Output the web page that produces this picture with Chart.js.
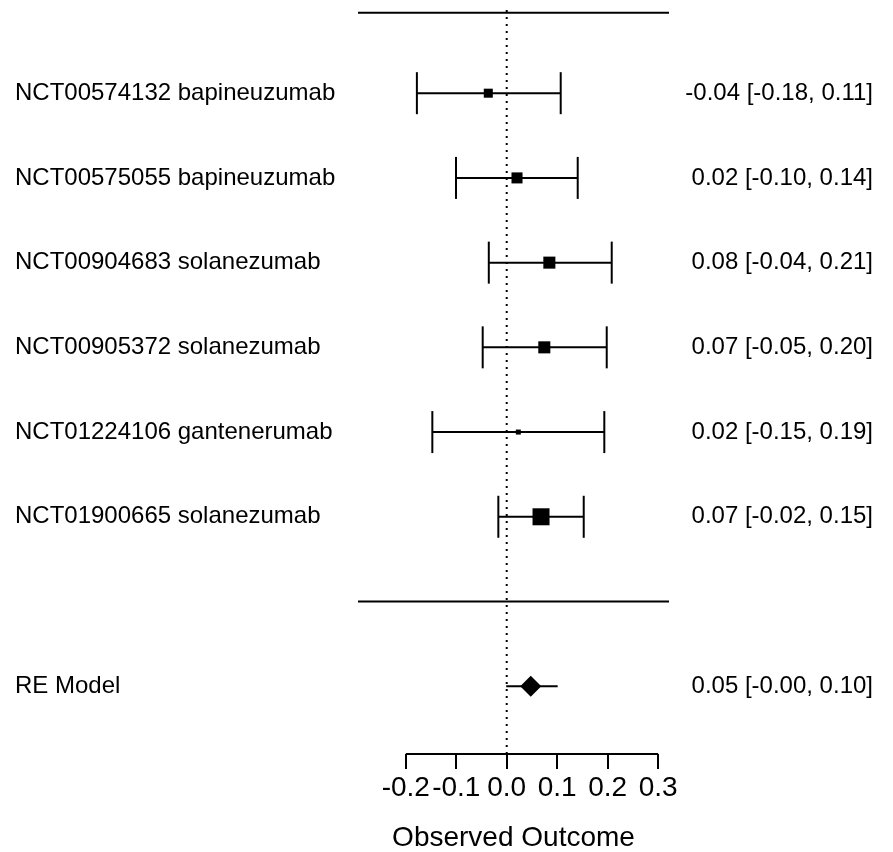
<!DOCTYPE html>
<html>
<head>
	<meta charset="UTF-8">
	<title>forest plot</title>
	<script src="https://cdn.jsdelivr.net/npm/chart.js"></script>
	<style>
	body{margin:0; background:#fff;}
	#box{width:893px; height:852px;}
	</style>
</head>
<body>
	<div id="box">
		<canvas id="myChart"></canvas>
	</div>
	<script>
	// study data
	var studies = ['NCT00574132 bapineuzumab', 'NCT00575055 bapineuzumab', 'NCT00904683 solanezumab',
		'NCT00905372 solanezumab', 'NCT01224106 gantenerumab', 'NCT01900665 solanezumab'];
	var est = [-0.0365, 0.0204, 0.0845, 0.0745, 0.023, 0.068];
	var lo = [-0.178, -0.1005, -0.0355, -0.0476, -0.1474, -0.0166];
	var hi = [0.107, 0.1407, 0.2081, 0.1982, 0.1934, 0.1526];
	var weights = [14.3, 16.7, 17.9, 17.9, 9.5, 23.8];
	var ciText = ['-0.04 [-0.18, 0.11]', '0.02 [-0.10, 0.14]', '0.08 [-0.04, 0.21]',
		'0.07 [-0.05, 0.20]', '0.02 [-0.15, 0.19]', '0.07 [-0.02, 0.15]'];
	var rows = [6, 5, 4, 3, 2, 1];

	// RE model
	var reLabel = 'RE Model';
	var reEst = 0.0476, reLo = -0.001, reHi = 0.101;
	var reText = '0.05 [-0.00, 0.10]';
	var reRow = -1;

	var xTicks = [-0.2, -0.1, 0.0, 0.1, 0.2, 0.3];
	var refLine = 0;

	// plot limits
	var xMin = -0.2947, xMax = 0.3216;
	var yMin = -1.8, yMax = 7.1;
	var topLine = 6.95, sepLine = 0, refTop = 7.0;

	var tickRows = rows.concat([reRow]);
	var leftLabels = studies.concat([reLabel]);
	var rightLabels = ciText.concat([reText]);

	var wMin = Math.min.apply(null, weights), wMax = Math.max.apply(null, weights);
	function boxRadius(w){
		var side = 5 + (w - wMin) / (wMax - wMin) * 12;
		return side / (2 * Math.SQRT1_2);
	}

	var FONT = "'Liberation Sans', Arial, sans-serif";

	var datasets = [];
	// boxes
	datasets.push({
		data: est.map(function(v, i){ return {x: v, y: rows[i]}; }),
		pointStyle: 'rect',
		pointRadius: weights.map(boxRadius),
		backgroundColor: '#000',
		pointBorderWidth: 0
	});
	// RE diamond
	datasets.push({
		data: [{x: reEst, y: reRow}],
		pointStyle: 'rectRot',
		pointRadius: 10.5,
		backgroundColor: '#000',
		pointBorderWidth: 0
	});
	// CI lines with caps
	for (var i = 0; i < est.length; i++) {
		datasets.push({
			data: [{x: lo[i], y: rows[i]}, {x: hi[i], y: rows[i]}],
			showLine: true,
			borderColor: '#000',
			borderWidth: 2,
			pointStyle: 'line',
			pointRotation: 90,
			pointRadius: 21,
			pointBorderColor: '#000',
			pointBorderWidth: 2
		});
	}
	// RE interval
	datasets.push({
		data: [{x: reLo, y: reRow}, {x: reHi, y: reRow}],
		showLine: true, borderColor: '#000', borderWidth: 2, pointRadius: 0
	});
	// horizontal lines
	[topLine, sepLine].forEach(function(h){
		datasets.push({
			data: [{x: xMin, y: h}, {x: xMax, y: h}],
			showLine: true, borderColor: '#000', borderWidth: 2, pointRadius: 0, clip: false
		});
	});
	// reference line
	datasets.push({
		data: [{x: refLine, y: yMin}, {x: refLine, y: refTop}],
		showLine: true, borderColor: '#000', borderWidth: 2, borderDash: [2, 5], pointRadius: 0
	});
	// x axis line
	datasets.push({
		data: [{x: xTicks[0], y: yMin}, {x: xTicks[xTicks.length - 1], y: yMin}],
		showLine: true, borderColor: '#000', borderWidth: 2, pointRadius: 0, clip: false
	});

	function rowAxis(position, labels, width){
		return {
			type: 'linear',
			position: position,
			min: yMin, max: yMax,
			grid: {display: false},
			border: {display: false},
			afterBuildTicks: function(scale){
				scale.ticks = tickRows.map(function(v){ return {value: v}; });
			},
			afterFit: function(scale){
				scale.width = width;
				scale.paddingTop = 0;
				scale.paddingBottom = 0;
			},
			ticks: {
				autoSkip: false,
				crossAlign: 'far',
				padding: 0,
				color: '#000',
				font: {family: FONT, size: 24},
				callback: function(value, index){ return labels[index]; }
			}
		};
	}

	new Chart(document.getElementById('myChart'), {
		type: 'scatter',
		data: {datasets: datasets},
		options: {
			responsive: true,
			maintainAspectRatio: false,
			animation: false,
			layout: {autoPadding: false, padding: {left: 15, right: 20, top: 0, bottom: 0}},
			plugins: {legend: {display: false}, tooltip: {enabled: false}},
			scales: {
				x: {
					type: 'linear',
					position: 'bottom',
					min: xMin, max: xMax,
					border: {display: false},
					grid: {drawOnChartArea: false, drawTicks: true, tickLength: 15, color: '#000', lineWidth: 2},
					afterBuildTicks: function(scale){
						scale.ticks = xTicks.map(function(v){ return {value: v}; });
					},
					afterFit: function(scale){
						scale.height = 98;
						scale.paddingLeft = 0;
						scale.paddingRight = 0;
					},
					ticks: {
						autoSkip: false,
						maxRotation: 0,
						padding: 2,
						color: '#000',
						font: {family: FONT, size: 28},
						callback: function(value){ return value.toFixed(1); }
					},
					title: {
						display: true,
						text: 'Observed Outcome',
						color: '#000',
						font: {family: FONT, size: 28, lineHeight: 1},
						padding: {top: 0, bottom: 0}
					}
				},
				y: rowAxis('left', leftLabels, 343),
				y2: rowAxis('right', rightLabels, 204)
			}
		}
	});
	</script>
</body>
</html>
